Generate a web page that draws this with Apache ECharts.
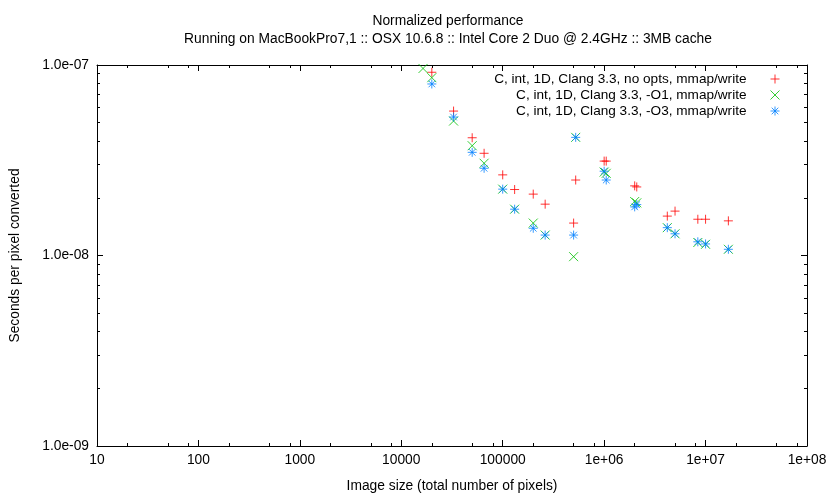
<!DOCTYPE html>
<html>
<head>
<meta charset="utf-8">
<title>Normalized performance</title>
<script src="https://cdn.jsdelivr.net/npm/echarts@6/dist/echarts.min.js"></script>
<style>
html, body { margin: 0; padding: 0; background: #fff; }
#chart { width: 830px; height: 498px; }
</style>
</head>
<body>
<div id="chart"></div>
<script>
// image sizes (total number of pixels), shared by the three runs
const sizes = [16384, 20000, 32768, 50000, 65536, 100000, 131072, 200000, 262144, 500000,
   524288, 1000000, 1048576, 2000000, 2097152, 4194304, 5000000, 8388608, 10000000, 16777216];
// seconds per pixel, null = off the chart
const noOpts = [null, 9.16e-8, 5.73e-8, 4.15e-8, 3.44e-8, 2.65e-8, 2.22e-8, 2.10e-8, 1.86e-8, 1.48e-8,
   2.49e-8, 3.13e-8, 3.13e-8, 2.32e-8, 2.29e-8, 1.61e-8, 1.71e-8, 1.55e-8, 1.55e-8, 1.52e-8];
const o1 = [9.59e-8, 8.58e-8, 5.08e-8, 3.77e-8, 3.05e-8, 2.23e-8, 1.75e-8, 1.48e-8, 1.28e-8, 9.86e-9,
   4.17e-8, 2.74e-8, 2.70e-8, 1.92e-8, 1.89e-8, 1.40e-8, 1.30e-8, 1.17e-8, 1.145e-8, 1.078e-8];
const o3 = [null, 7.95e-8, 5.33e-8, 3.48e-8, 2.87e-8, 2.23e-8, 1.75e-8, 1.39e-8, 1.28e-8, 1.28e-8,
   4.17e-8, 2.77e-8, 2.49e-8, 1.80e-8, 1.85e-8, 1.40e-8, 1.30e-8, 1.18e-8, 1.15e-8, 1.078e-8];
const seriesNames = [
   'C, int, 1D, Clang 3.3, no opts, mmap/write',
   'C, int, 1D, Clang 3.3, -O1, mmap/write',
   'C, int, 1D, Clang 3.3, -O3, mmap/write'
];
const xTickLabels = ['10', '100', '1000', '10000', '100000', '1e+06', '1e+07', '1e+08'];
const yTickLabels = ['1.0e-09', '1.0e-08', '1.0e-07'];
const xMinor = [2, 5, 8];
const yMinor = [2, 3, 4, 5, 6, 7, 8, 9];

const font = "'Liberation Sans', Arial, sans-serif";
const fs = 13.8;
const black = '#000';

function pairs(vals) {
   const out = [];
   sizes.forEach(function(s, i) {
      if (vals[i] != null) out.push([s, vals[i]]);
   });
   return out;
}

// minor tick positions in log10 space
function minorLog(from, to, mant) {
   const out = [];
   for (let d = from; d < to; d++) {
      mant.forEach(function(m) { out.push(d + Math.log10(m)); });
   }
   return out;
}
const xMinorLog = minorLog(1, 8, xMinor);
const yMinorLog = minorLog(-9, -7, yMinor);

const chart = echarts.init(document.getElementById('chart'), null, { renderer: 'canvas' });

function majorX(pos, labels) {
   return {
      type: 'log', logBase: 10, position: pos, min: 10, max: 1e8, interval: 1,
      axisLine: { show: true, onZero: false, lineStyle: { color: black, width: 1 } },
      axisTick: { show: true, inside: true, length: 6, lineStyle: { color: black } },
      splitLine: { show: false },
      axisLabel: labels ? {
         show: true, margin: 7, color: black, fontSize: fs, fontFamily: font,
         formatter: function(v) { return xTickLabels[Math.round(Math.log10(v)) - 1]; }
      } : { show: false }
   };
}
function minorX(pos) {
   return {
      type: 'value', position: pos, min: 1, max: 8,
      axisLine: { show: false },
      axisTick: { show: true, inside: true, length: 3, customValues: xMinorLog, lineStyle: { color: black } },
      splitLine: { show: false },
      axisLabel: { show: false }
   };
}
function majorY(pos, labels) {
   return {
      type: 'log', logBase: 10, position: pos, min: 1e-9, max: 1e-7, interval: 1,
      axisLine: { show: true, onZero: false, lineStyle: { color: black, width: 1 } },
      axisTick: { show: true, inside: true, length: 6, lineStyle: { color: black } },
      splitLine: { show: false },
      axisLabel: labels ? {
         show: true, margin: 8, color: black, fontSize: fs, fontFamily: font,
         formatter: function(v) { return yTickLabels[Math.round(Math.log10(v)) + 9]; }
      } : { show: false }
   };
}
function minorY(pos) {
   return {
      type: 'value', position: pos, min: -9, max: -7,
      axisLine: { show: false },
      axisTick: { show: true, inside: true, length: 3, customValues: yMinorLog, lineStyle: { color: black } },
      splitLine: { show: false },
      axisLabel: { show: false }
   };
}

const xBottom = majorX('bottom', true);
xBottom.name = 'Image size (total number of pixels)';
xBottom.nameLocation = 'middle';
xBottom.nameGap = 33;
xBottom.nameTextStyle = { color: black, fontSize: fs, fontFamily: font };

const yLeft = majorY('left', true);
yLeft.name = 'Seconds per pixel converted';
yLeft.nameLocation = 'middle';
yLeft.nameGap = 75;
yLeft.nameRotate = 90;
yLeft.nameTextStyle = { color: black, fontSize: fs, fontFamily: font };

const symbols = [
   'path://M0,4.5L9,4.5M4.5,0L4.5,9',
   'path://M0,0L9,9M9,0L0,9',
   'path://M0,4.5L9,4.5M4.5,0L4.5,9M1.2,1.2L7.8,7.8M7.8,1.2L1.2,7.8'
];
const colors = ['#ff0000', '#00c000', '#0080ff'];
const values = [noOpts, o1, o3];

const option = {
   animation: false,
   backgroundColor: '#fff',
   textStyle: { fontFamily: font },
   title: {
      text: 'Normalized performance\nRunning on MacBookPro7,1 :: OSX 10.6.8 :: Intel Core 2 Duo @ 2.4GHz :: 3MB cache',
      left: 443, top: 7, textAlign: 'center',
      textStyle: { color: black, fontSize: fs, fontWeight: 'normal', fontFamily: font, lineHeight: 18 }
   },
   grid: { left: 88, right: 23, top: 65, bottom: 52, containLabel: false },
   legend: {
      orient: 'vertical', align: 'right', right: 50, top: 71, padding: 0,
      itemWidth: 9, itemHeight: 9, itemGap: 0,
      itemStyle: { borderWidth: 1 },
      textStyle: { color: black, fontSize: 13.6, fontFamily: font, lineHeight: 16, padding: [0, 19, 0, 0] },
      data: seriesNames
   },
   xAxis: [xBottom, minorX('bottom'), majorX('top', false), minorX('top')],
   yAxis: [yLeft, minorY('left'), majorY('right', false), minorY('right')],
   series: seriesNames.map(function(name, i) {
      return {
         name: name, type: 'scatter', xAxisIndex: 0, yAxisIndex: 0,
         symbol: symbols[i], symbolSize: 9,
         itemStyle: { color: 'rgba(0,0,0,0)', borderColor: colors[i], borderWidth: 1 },
         emphasis: { disabled: true },
         data: pairs(values[i])
      };
   })
};
chart.setOption(option);
</script>
</body>
</html>
